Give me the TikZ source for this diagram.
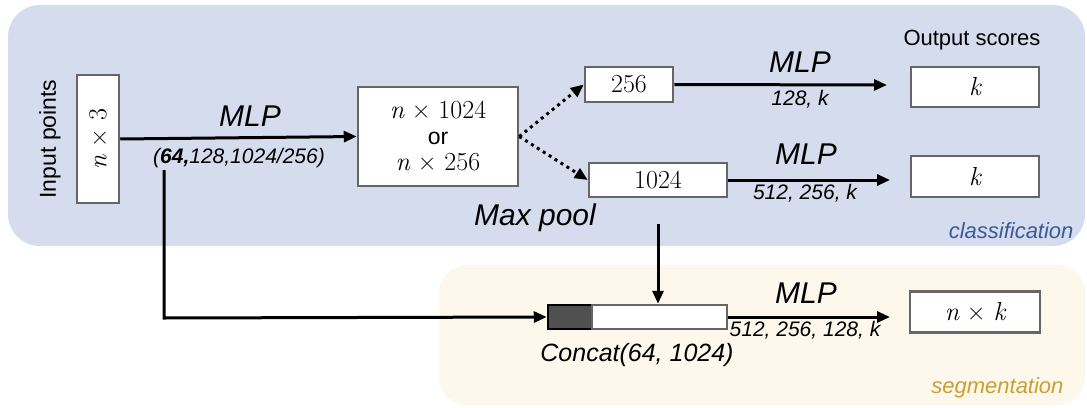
\documentclass[tikz,border=0pt]{standalone}
\usepackage{fontspec}
\setmainfont{Liberation Sans}
\newfontfamily\lm{Latin Modern Roman}
\usetikzlibrary{arrows.meta}
\definecolor{bluebg}{HTML}{D4DCEE}
\definecolor{yellowbg}{HTML}{FDF8EB}
\definecolor{boxgray}{HTML}{666666}
\definecolor{darkfill}{HTML}{505050}
\definecolor{clsblue}{HTML}{3B5998}
\definecolor{seggold}{HTML}{C9A033}
\newcommand{\fsz}[1]{\fontsize{#1}{#1}\selectfont}
\newcommand{\mv}[1]{{\lm\itshape #1}}
\begin{document}
\begin{tikzpicture}[x=1pt,y=-1pt,
  box/.style={draw=boxgray, line width=2.5pt, fill=white, inner sep=0pt, font=\fsz{26}\lm},
  conn/.style={line width=3pt, -{Triangle[length=13pt,width=11pt]}},
  dotconn/.style={line width=3pt, dash pattern=on 3pt off 4pt, -{Triangle[length=13pt,width=11pt]}},
  big/.style={font=\fsz{30}\itshape},
  small/.style={font=\fsz{21}\itshape},
]
\useasboundingbox (0,0) rectangle (1087,407);
\fill[bluebg, rounded corners=32pt] (8,5) rectangle (1085,246);
\fill[yellowbg, rounded corners=28pt] (439,265) rectangle (1085,405);

% boxes
\node[box, minimum width=42pt, minimum height=128pt] (inp) at (98,139) {\rotatebox{90}{\mv{n} × 3}};
\node[rotate=90, font=\fsz{23}] (inplab) at (50,139) {Input points};
\node[box, minimum width=160pt, minimum height=99pt, align=center] (mx) at (438,136.5) {\fsz{26}\baselineskip=29pt \mv{n} × 1024\\{\rmfamily\fsz{23}or}\\\mv{n} × 256};
\node[box, minimum width=88pt, minimum height=35pt] (b256) at (629,84.5) {256};
\node[box, minimum width=138pt, minimum height=34pt] (b1024) at (658,180) {1024};
\node[box, minimum width=128pt, minimum height=40pt] (k1) at (975,87) {\mv{k}};
\node[box, minimum width=128pt, minimum height=41pt] (k2) at (975,176.5) {\mv{k}};
\node[box, minimum width=130pt, minimum height=41pt] (nk) at (975,312) {\mv{n} × \mv{k}};
\node[draw=black, line width=2.5pt, fill=darkfill, minimum width=44pt, minimum height=24pt, inner sep=0pt] (cdark) at (570,317) {};
\node[draw=boxgray, line width=2.5pt, fill=white, minimum width=135pt, minimum height=24pt, inner sep=0pt] (cwhite) at (659.5,317) {};

% labels
\node[big] (mlp0) at (250,116) {MLP};
\node[small] (sub0) at (239,158) {(\textbf{64,}128,1024/256)};
\node[big] (maxpool) at (535,218) {Max pool};
\node[font=\fsz{22}] (outlab) at (972,40) {Output scores};
\node[big] (mlp1) at (800,62) {MLP};
\node[small] (sub1) at (800,99) {128, k};
\node[big] (mlp2) at (806,154) {MLP};
\node[small] (sub2) at (805,193) {512, 256, k};
\node[big] (mlp3) at (806,293) {MLP};
\node[small] (sub3) at (805,330) {512, 256, 128, k};
\node[font=\fsz{25}\itshape] (concat) at (637,355) {Concat(64, 1024)};
\node[font=\fsz{22}\itshape, text=clsblue, anchor=east] (cls) at (1077,231) {classification};
\node[font=\fsz{22}\itshape, text=seggold, anchor=east] (seg) at (1067,388) {segmentation};

% coordinates
\coordinate (e1) at (887,85);
\coordinate (e2) at (890,180);
\coordinate (e3) at (890,317);
\coordinate (mp) at (658,224);
\coordinate (s64) at (164,170);
\coordinate (corner) at (164,318);

% connectors
\draw[conn] (inp.east) -- (mx.west);
\draw[dotconn] (mx.east) -- (b256.west);
\draw[dotconn] (mx.east) -- (b1024.west);
\draw[conn] (b256.east) -- (e1);
\draw[conn] (b1024.east) -- (e2);
\draw[conn] (cwhite.east) -- (e3);
\draw[conn] (mp) -- (cwhite.north -| mp);
\draw[conn] (s64) -- (corner) -- (cdark.west);
\end{tikzpicture}
\end{document}
